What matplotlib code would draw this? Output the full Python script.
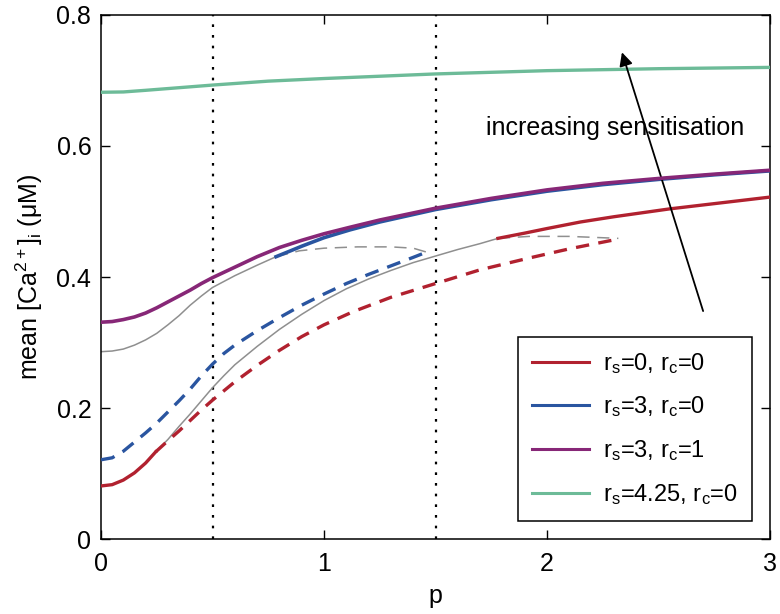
import matplotlib
matplotlib.use("Agg")
import matplotlib.pyplot as plt
from matplotlib.lines import Line2D

plt.rcParams['font.family'] = ['Liberation Sans', 'DejaVu Sans']
plt.rcParams['mathtext.fontset'] = 'custom'
plt.rcParams['mathtext.rm'] = 'Liberation Sans'
plt.rcParams['mathtext.it'] = 'Liberation Sans:italic'

# ---- data (p, mean [Ca2+]) ----
# r_s=4.25, r_c=0 (stable everywhere)
green_p = [0, 0.1, 0.2, 0.35, 0.5, 0.75, 1.0, 1.5, 2.0, 2.5, 3.0]
green_c = [0.682, 0.6825, 0.685, 0.689, 0.693, 0.699, 0.703, 0.710, 0.715, 0.718, 0.720]

# r_s=3, r_c=1 (stable everywhere)
purple_p = [0, 0.05, 0.1, 0.15, 0.2, 0.25, 0.3, 0.35, 0.4, 0.45, 0.5, 0.6, 0.7, 0.8,
            0.9, 1.0, 1.117, 1.25, 1.5, 1.75, 2.0, 2.25, 2.52, 2.75, 3.0]
purple_c = [0.331, 0.332, 0.335, 0.339, 0.345, 0.353, 0.362, 0.371, 0.380, 0.390,
            0.399, 0.415, 0.431, 0.445, 0.456, 0.466, 0.476, 0.487, 0.505, 0.520,
            0.533, 0.543, 0.551, 0.557, 0.563]

# r_s=3, r_c=0 : stable upper branch, unstable steady state, oscillation branches
blue_solid_p = [0.785, 0.85, 0.9, 1.0, 1.117, 1.25, 1.5, 1.75, 2.0, 2.25, 2.5, 2.75, 3.0]
blue_solid_c = [0.431, 0.440, 0.447, 0.460, 0.472, 0.484, 0.503, 0.518, 0.531, 0.541,
                0.549, 0.556, 0.562]
blue_dash_p = [0, 0.05, 0.1, 0.15, 0.2, 0.25, 0.3, 0.35, 0.4, 0.45, 0.5, 0.55, 0.6,
               0.7, 0.8, 0.9, 1.0, 1.1, 1.2, 1.3, 1.4, 1.46]
blue_dash_c = [0.121, 0.124, 0.134, 0.148, 0.162, 0.177, 0.194, 0.211, 0.229, 0.249,
               0.267, 0.283, 0.296, 0.318, 0.338, 0.357, 0.374, 0.390, 0.404, 0.417,
               0.430, 0.438]
blue_osc_p = [0, 0.05, 0.1, 0.15, 0.2, 0.25, 0.3, 0.35, 0.4, 0.45, 0.5, 0.6, 0.7, 0.785]
blue_osc_c = [0.286, 0.287, 0.290, 0.296, 0.304, 0.314, 0.327, 0.341, 0.357, 0.371,
              0.384, 0.402, 0.418, 0.431]
blue_osc_dash_p = [0.785, 0.89, 1.0, 1.15, 1.3, 1.40, 1.46]
blue_osc_dash_c = [0.431, 0.440, 0.444, 0.446, 0.446, 0.444, 0.438]

# r_s=0, r_c=0
red_low_p = [0, 0.05, 0.1, 0.15, 0.2, 0.245]
red_low_c = [0.081, 0.083, 0.090, 0.101, 0.116, 0.133]
red_high_p = [1.78, 1.9, 2.0, 2.15, 2.3, 2.55, 2.75, 3.0]
red_high_c = [0.459, 0.467, 0.474, 0.484, 0.492, 0.504, 0.512, 0.522]
red_dash_p = [0.245, 0.3, 0.35, 0.4, 0.45, 0.5, 0.55, 0.6, 0.7, 0.8, 0.9, 1.0, 1.13,
              1.3, 1.5, 1.7, 1.92, 2.1, 2.32]
red_dash_c = [0.133, 0.150, 0.165, 0.181, 0.197, 0.212, 0.226, 0.240, 0.265, 0.288,
              0.309, 0.327, 0.347, 0.369, 0.390, 0.411, 0.429, 0.443, 0.458]
red_osc_p = [0.245, 0.3, 0.35, 0.4, 0.45, 0.5, 0.55, 0.6, 0.7, 0.8, 0.9, 1.0, 1.1,
             1.2, 1.3, 1.4, 1.5, 1.6, 1.7, 1.78]
red_osc_c = [0.133, 0.152, 0.172, 0.191, 0.211, 0.231, 0.249, 0.266, 0.294, 0.320,
             0.343, 0.364, 0.382, 0.397, 0.410, 0.422, 0.432, 0.442, 0.451, 0.459]
red_osc_dash_p = [1.78, 1.92, 2.1, 2.32]
red_osc_dash_c = [0.459, 0.462, 0.462, 0.459]

vlines_p = [0.5, 1.5]

labels = [r"r$_\mathrm{s}$=0, r$_\mathrm{c}$=0",
          r"r$_\mathrm{s}$=3, r$_\mathrm{c}$=0",
          r"r$_\mathrm{s}$=3, r$_\mathrm{c}$=1",
          r"r$_\mathrm{s}$=4.25, r$_\mathrm{c}$=0"]

RED = '#B1212F'
BLUE = '#2A55A0'
PURPLE = '#872777'
GREEN = '#6DBB98'
GRAY = '#8F8F8F'

fig = plt.figure(figsize=(7.8, 6.14), dpi=100)
ax = fig.add_axes([0.1295, 0.1221, 0.8577, 0.8535])

for xv in vlines_p:
    ax.axvline(xv, color='k', lw=1.6, dashes=(1.2, 3.6), zorder=1)

# gray oscillation branches
ax.plot(blue_osc_p, blue_osc_c, color=GRAY, lw=1.1, zorder=2)
ax.plot(red_osc_p, red_osc_c, color=GRAY, lw=1.1, zorder=2)
ax.plot(blue_osc_dash_p, blue_osc_dash_c, color=GRAY, lw=1.1, dashes=(8, 5), zorder=2)
ax.plot(red_osc_dash_p, red_osc_dash_c, color=GRAY, lw=1.1, dashes=(8, 5), zorder=2)

# steady states
ax.plot(green_p, green_c, color=GREEN, lw=2.4, zorder=3)
ax.plot(red_low_p, red_low_c, color=RED, lw=2.4, zorder=3)
ax.plot(red_high_p, red_high_c, color=RED, lw=2.4, zorder=3)
ax.plot(red_dash_p, red_dash_c, color=RED, lw=2.4, dashes=(4, 2.8), zorder=3)
ax.plot(blue_dash_p, blue_dash_c, color=BLUE, lw=2.4, dashes=(4.2, 2.8), zorder=3)
ax.plot(blue_solid_p, blue_solid_c, color=BLUE, lw=2.6, zorder=3)
ax.plot(purple_p, purple_c, color=PURPLE, lw=2.6, zorder=4)

ax.annotate("", xy=(2.336, 0.743), xytext=(2.70, 0.348),
            arrowprops=dict(arrowstyle='-|>', color='k', lw=1.3,
                            mutation_scale=20, shrinkA=0, shrinkB=0))
ax.text(2.305, 0.627, "increasing sensitisation", fontsize=18,
        ha='center', va='center')

ax.set_xlim(0, 3)
ax.set_ylim(0, 0.8)
ax.set_xticks([0, 1, 2, 3])
ax.set_yticks([0, 0.2, 0.4, 0.6, 0.8])
ax.set_xticklabels(['0', '1', '2', '3'])
ax.set_yticklabels(['0', '0.2', '0.4', '0.6', '0.8'])
ax.tick_params(direction='in', length=6.5, width=1, labelsize=18,
               top=True, right=True)
ax.tick_params(axis='x', pad=9)
ax.tick_params(axis='y', pad=7)
for s in ax.spines.values():
    s.set_linewidth(1.1)

ax.set_xlabel("p", fontsize=18, labelpad=6)
ax.set_ylabel(r"mean [Ca$^\mathrm{2+}$]$_\mathrm{i}$ ($\mathrm{\mu}$M)", fontsize=18, labelpad=8)

handles = [Line2D([], [], color=c, lw=2.2) for c in (RED, BLUE, PURPLE, GREEN)]
leg = ax.legend(handles, labels, loc='lower right', bbox_to_anchor=(0.973, 0.034),
                borderaxespad=0, fontsize=17, handlelength=2.4, handletextpad=0.6,
                labelspacing=0.8, borderpad=0.6, fancybox=False, framealpha=1,
                edgecolor='k')
leg.get_frame().set_linewidth(1.1)

fig.savefig("out.png", dpi=100)
